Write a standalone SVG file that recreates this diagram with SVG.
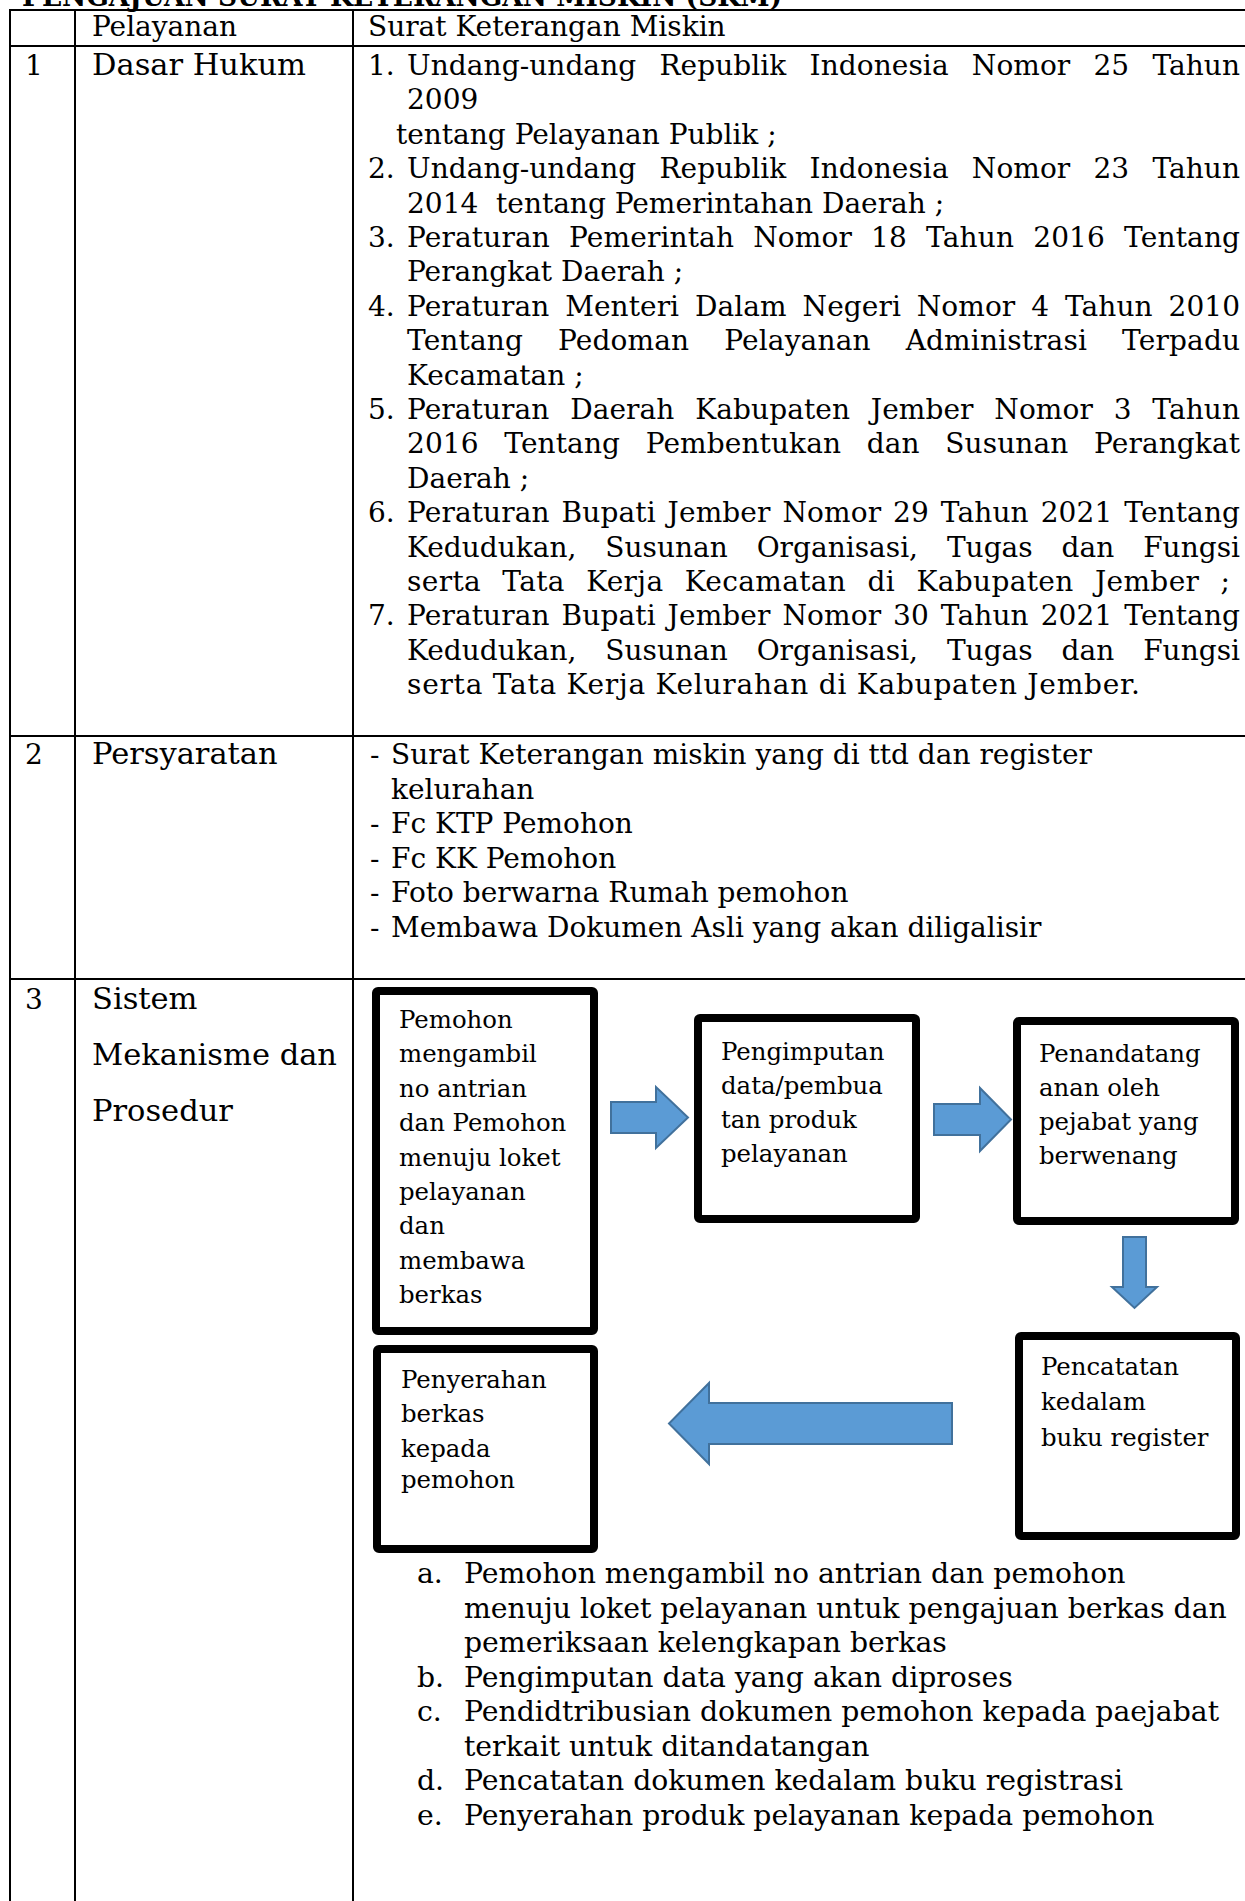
<svg xmlns="http://www.w3.org/2000/svg" width="1245" height="1901" viewBox="0 0 1245 1901">
  <style>
    text { font-family: "DejaVu Serif", "Liberation Serif", serif; fill: #000; }
    .title { font-size: 28px; font-weight: bold; }
    .hd { font-size: 28px; }
    .lbl { font-size: 30.5px; }
    .num { font-size: 28px; }
    .body { font-size: 28px; }
    .list { font-size: 28.3px; }
    .box-text { font-size: 24.4px; }
    .grid { stroke: #000; stroke-width: 2; fill: none; }
    .box { fill: #fff; stroke: #000; stroke-width: 8; }
    .arrow { fill: #5B9BD5; stroke: #41719C; stroke-width: 2; stroke-linejoin: miter; }
  </style>

  <rect width="1245" height="1901" fill="#fff"/>

  <!-- heading (runs off the top edge) -->
  <text class="title" x="22" y="6" textLength="760" lengthAdjust="spacingAndGlyphs">PENGAJUAN SURAT KETERANGAN MISKIN (SKM)</text>

  <!-- table grid -->
  <g id="table-grid" class="grid">
    <line x1="10" y1="10" x2="1245" y2="10"/>
    <line x1="10" y1="46" x2="1245" y2="46"/>
    <line x1="10" y1="736" x2="1245" y2="736"/>
    <line x1="10" y1="979" x2="1245" y2="979"/>
    <line x1="10" y1="9" x2="10" y2="1901"/>
    <line x1="75" y1="9" x2="75" y2="1901"/>
    <line x1="353" y1="9" x2="353" y2="1901"/>
  </g>

  <!-- header row -->
  <g id="header-row">
    <text class="hd" x="92" y="36">Pelayanan</text>
    <text class="hd" x="368" y="36">Surat Keterangan Miskin</text>
  </g>

  <!-- row 1: legal basis -->
  <g id="row-dasar-hukum">
    <text class="num" x="25" y="75">1</text>
    <text class="lbl" x="92" y="75">Dasar Hukum</text>
    <g class="body">
      <text x="368" y="75">1.</text>
      <text x="407" y="75" word-spacing="14.2" textLength="833" lengthAdjust="spacing">Undang-undang Republik Indonesia Nomor 25 Tahun</text>
      <text x="407" y="109.4">2009</text>
      <text x="396" y="143.8">tentang Pelayanan Publik ;</text>
      <text x="368" y="178.2">2.</text>
      <text x="407" y="178.2" word-spacing="14.2" textLength="833" lengthAdjust="spacing">Undang-undang Republik Indonesia Nomor 23 Tahun</text>
      <text x="407" y="212.6" xml:space="preserve">2014  tentang Pemerintahan Daerah ;</text>
      <text x="368" y="247">3.</text>
      <text x="407" y="247" word-spacing="10" textLength="833" lengthAdjust="spacing">Peraturan Pemerintah Nomor 18 Tahun 2016 Tentang</text>
      <text x="407" y="281.4">Perangkat Daerah ;</text>
      <text x="368" y="315.8">4.</text>
      <text x="407" y="315.8" word-spacing="6.9" textLength="833" lengthAdjust="spacing">Peraturan Menteri Dalam Negeri Nomor 4 Tahun 2010</text>
      <text x="407" y="350.2" word-spacing="26" textLength="833" lengthAdjust="spacing">Tentang Pedoman Pelayanan Administrasi Terpadu</text>
      <text x="407" y="384.6">Kecamatan ;</text>
      <text x="368" y="419">5.</text>
      <text x="407" y="419" word-spacing="11.8" textLength="833" lengthAdjust="spacing">Peraturan Daerah Kabupaten Jember Nomor 3 Tahun</text>
      <text x="407" y="453.4" word-spacing="16.6" textLength="833" lengthAdjust="spacing">2016 Tentang Pembentukan dan Susunan Perangkat</text>
      <text x="407" y="487.8">Daerah ;</text>
      <text x="368" y="522.2">6.</text>
      <text x="407" y="522.2" word-spacing="2.9" textLength="833" lengthAdjust="spacing">Peraturan Bupati Jember Nomor 29 Tahun 2021 Tentang</text>
      <text x="407" y="556.6" word-spacing="20" textLength="833" lengthAdjust="spacing">Kedudukan, Susunan Organisasi, Tugas dan Fungsi</text>
      <text x="407" y="591" word-spacing="12" textLength="823" lengthAdjust="spacing">serta Tata Kerja Kecamatan di Kabupaten Jember ;</text>
      <text x="368" y="625.4">7.</text>
      <text x="407" y="625.4" word-spacing="2.9" textLength="833" lengthAdjust="spacing">Peraturan Bupati Jember Nomor 30 Tahun 2021 Tentang</text>
      <text x="407" y="659.8" word-spacing="20" textLength="833" lengthAdjust="spacing">Kedudukan, Susunan Organisasi, Tugas dan Fungsi</text>
      <text x="407" y="694.2" textLength="733" lengthAdjust="spacing">serta Tata Kerja Kelurahan di Kabupaten Jember.</text>
    </g>
  </g>

  <!-- row 2: requirements -->
  <g id="row-persyaratan">
    <text class="num" x="25" y="764">2</text>
    <text class="lbl" x="92" y="764">Persyaratan</text>
    <g class="body">
      <text x="370" y="764">-</text>
      <text x="391" y="764">Surat Keterangan miskin yang di ttd dan register</text>
      <text x="391" y="798.5">kelurahan</text>
      <text x="370" y="833">-</text>
      <text x="391" y="833">Fc KTP Pemohon</text>
      <text x="370" y="867.5">-</text>
      <text x="391" y="867.5">Fc KK Pemohon</text>
      <text x="370" y="902">-</text>
      <text x="391" y="902">Foto berwarna Rumah pemohon</text>
      <text x="370" y="936.5">-</text>
      <text x="391" y="936.5">Membawa Dokumen Asli yang akan diligalisir</text>
    </g>
  </g>

  <!-- row 3: system, mechanism and procedure -->
  <g id="row-prosedur">
    <text class="num" x="25" y="1009">3</text>
    <text class="lbl" x="92" y="1009">Sistem</text>
    <text class="lbl" x="92" y="1065">Mekanisme dan</text>
    <text class="lbl" x="92" y="1121">Prosedur</text>
  </g>

  <!-- flow connectors -->
  <g id="connectors">
    <polygon class="arrow" points="611,1102 656,1102 656,1087 688,1117.5 656,1148 656,1133 611,1133"/>
    <polygon class="arrow" points="934,1104 980,1104 980,1088 1011,1119.5 980,1151 980,1135 934,1135"/>
    <polygon class="arrow" points="1123,1237 1146,1237 1146,1287 1157,1287 1134.5,1308 1112,1287 1123,1287"/>
    <polygon class="arrow" points="952,1403 709,1403 709,1383 669,1423.5 709,1464 709,1444 952,1444"/>
  </g>

  <!-- flow steps -->
  <g id="step-antrian">
    <rect class="box" x="376" y="991" width="218" height="340" rx="2"/>
    <g class="box-text">
      <text x="399" y="1028">Pemohon</text>
      <text x="399" y="1062.4">mengambil</text>
      <text x="399" y="1096.8">no antrian</text>
      <text x="399" y="1131.2">dan Pemohon</text>
      <text x="399" y="1165.6">menuju loket</text>
      <text x="399" y="1200">pelayanan</text>
      <text x="399" y="1234.4">dan</text>
      <text x="399" y="1268.8">membawa</text>
      <text x="399" y="1303.2">berkas</text>
    </g>
  </g>

  <g id="step-pengimputan">
    <rect class="box" x="698" y="1018" width="218" height="201" rx="2"/>
    <g class="box-text">
      <text x="721" y="1060">Pengimputan</text>
      <text x="721" y="1094">data/pembua</text>
      <text x="721" y="1128">tan produk</text>
      <text x="721" y="1162">pelayanan</text>
    </g>
  </g>

  <g id="step-penandatanganan">
    <rect class="box" x="1017" y="1021" width="218" height="200" rx="2"/>
    <g class="box-text">
      <text x="1039" y="1062">Penandatang</text>
      <text x="1039" y="1096">anan oleh</text>
      <text x="1039" y="1130">pejabat yang</text>
      <text x="1039" y="1164">berwenang</text>
    </g>
  </g>

  <g id="step-pencatatan">
    <rect class="box" x="1019" y="1336" width="217" height="200" rx="2"/>
    <g class="box-text">
      <text x="1041" y="1375">Pencatatan</text>
      <text x="1041" y="1410">kedalam</text>
      <text x="1041" y="1446">buku register</text>
    </g>
  </g>

  <g id="step-penyerahan">
    <rect class="box" x="377" y="1349" width="217" height="200" rx="2"/>
    <g class="box-text">
      <text x="401" y="1388">Penyerahan</text>
      <text x="401" y="1422">berkas</text>
      <text x="401" y="1457">kepada</text>
      <text x="401" y="1488">pemohon</text>
    </g>
  </g>

  <!-- procedure list -->
  <g id="procedure-list" class="list">
    <text x="417" y="1583">a.</text>
    <text x="464" y="1583">Pemohon mengambil no antrian dan pemohon</text>
    <text x="464" y="1617.5">menuju loket pelayanan untuk pengajuan berkas dan</text>
    <text x="464" y="1652">pemeriksaan kelengkapan berkas</text>
    <text x="417" y="1686.5">b.</text>
    <text x="464" y="1686.5">Pengimputan data yang akan diproses</text>
    <text x="417" y="1721">c.</text>
    <text x="464" y="1721">Pendidtribusian dokumen pemohon kepada paejabat</text>
    <text x="464" y="1755.5">terkait untuk ditandatangan</text>
    <text x="417" y="1790">d.</text>
    <text x="464" y="1790">Pencatatan dokumen kedalam buku registrasi</text>
    <text x="417" y="1824.5">e.</text>
    <text x="464" y="1824.5">Penyerahan produk pelayanan kepada pemohon</text>
  </g>
</svg>
